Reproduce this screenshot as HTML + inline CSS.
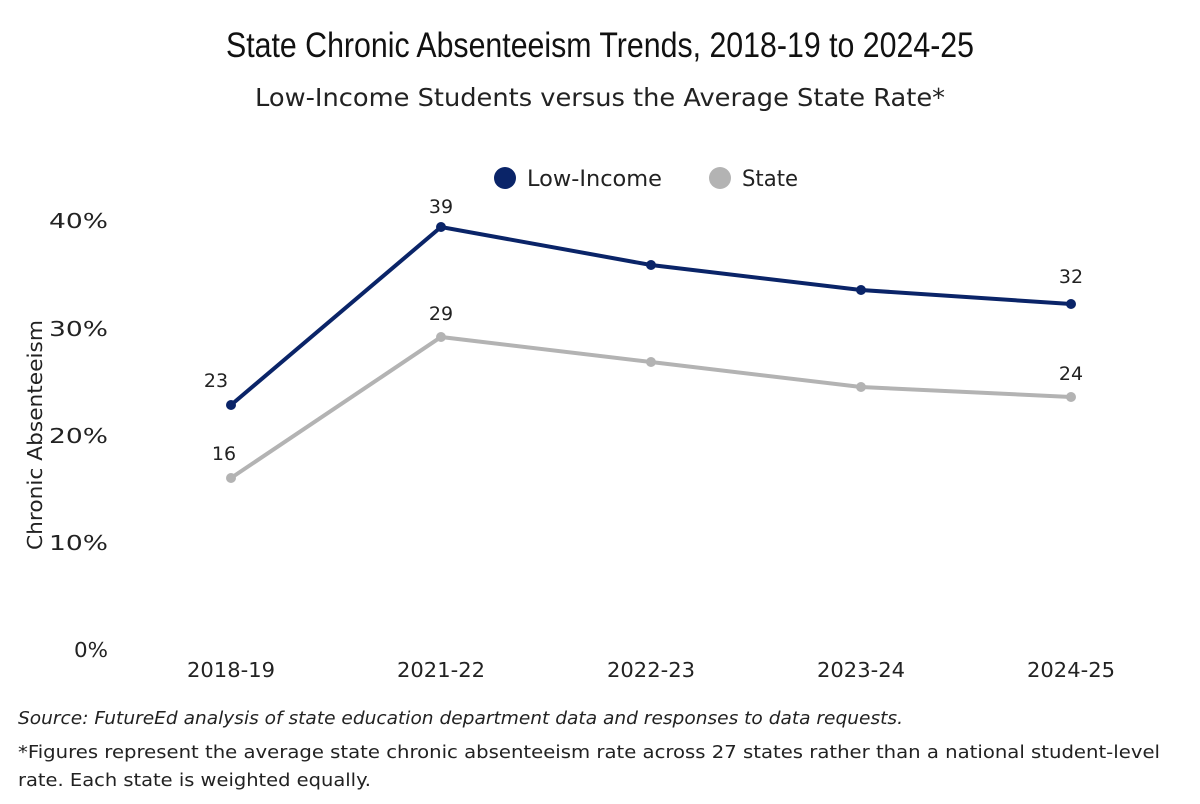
<!DOCTYPE html>
<html><head><meta charset="utf-8"><style>
html,body{margin:0;padding:0;background:#fff;}
body{width:1200px;height:800px;overflow:hidden;font-family:"DejaVu Sans",sans-serif;}
</style></head><body>
<svg width="1200" height="800" viewBox="0 0 1200 800" xmlns="http://www.w3.org/2000/svg" font-family="DejaVu Sans, Liberation Sans, sans-serif">
<rect width="1200" height="800" fill="#fff"/>
<text x="226" y="57" font-family="Liberation Sans, sans-serif" font-size="35" fill="#111" textLength="748" lengthAdjust="spacingAndGlyphs">State Chronic Absenteeism Trends, 2018-19 to 2024-25</text>
<text x="255" y="106" font-size="24.5" fill="#222" textLength="690" lengthAdjust="spacingAndGlyphs">Low-Income Students versus the Average State Rate*</text>
<circle cx="505" cy="178" r="11" fill="#0a2468"/>
<text x="527" y="186" font-size="22" fill="#222" textLength="135" lengthAdjust="spacingAndGlyphs">Low-Income</text>
<circle cx="720" cy="178" r="11" fill="#b3b3b3"/>
<text x="742" y="186" font-size="22" fill="#222" textLength="56" lengthAdjust="spacingAndGlyphs">State</text>
<g font-size="20.5" fill="#222">
<text x="49" y="228" textLength="59" lengthAdjust="spacingAndGlyphs">40%</text>
<text x="49" y="336" textLength="59" lengthAdjust="spacingAndGlyphs">30%</text>
<text x="49" y="443" textLength="59" lengthAdjust="spacingAndGlyphs">20%</text>
<text x="49" y="550" textLength="59" lengthAdjust="spacingAndGlyphs">10%</text>
<text x="74" y="657" textLength="34" lengthAdjust="spacingAndGlyphs">0%</text>
</g>
<text transform="translate(42 550) rotate(-90)" font-size="20.5" fill="#222" textLength="230" lengthAdjust="spacingAndGlyphs">Chronic Absenteeism</text>
<g font-size="20.5" fill="#222">
<text x="187" y="677" textLength="88" lengthAdjust="spacingAndGlyphs">2018-19</text>
<text x="397" y="677" textLength="88" lengthAdjust="spacingAndGlyphs">2021-22</text>
<text x="607" y="677" textLength="88" lengthAdjust="spacingAndGlyphs">2022-23</text>
<text x="817" y="677" textLength="88" lengthAdjust="spacingAndGlyphs">2023-24</text>
<text x="1027" y="677" textLength="88" lengthAdjust="spacingAndGlyphs">2024-25</text>
</g>
<polyline points="231,478 441,337 651,362 861,387 1071,397" fill="none" stroke="#b3b3b3" stroke-width="4"/>
<g fill="#b3b3b3"><circle cx="231" cy="478" r="5"/><circle cx="441" cy="337" r="5"/><circle cx="651" cy="362" r="5"/><circle cx="861" cy="387" r="5"/><circle cx="1071" cy="397" r="5"/></g>
<polyline points="231,405 441,227 651,265 861,290 1071,304" fill="none" stroke="#0a2468" stroke-width="4"/>
<g fill="#0a2468"><circle cx="231" cy="405" r="5"/><circle cx="441" cy="227" r="5"/><circle cx="651" cy="265" r="5"/><circle cx="861" cy="290" r="5"/><circle cx="1071" cy="304" r="5"/></g>
<g font-size="19" fill="#222" text-anchor="middle">
<text x="216" y="387">23</text><text x="441" y="213">39</text><text x="1071" y="283">32</text>
<text x="224" y="460">16</text><text x="441" y="320">29</text><text x="1071" y="380">24</text>
</g>
<text x="18" y="724" font-size="18" font-style="italic" fill="#222" textLength="885" lengthAdjust="spacingAndGlyphs">Source: FutureEd analysis of state education department data and responses to data requests.</text>
<text x="18" y="758" font-size="18" fill="#222" textLength="1142" lengthAdjust="spacingAndGlyphs">*Figures represent the average state chronic absenteeism rate across 27 states rather than a national student-level</text>
<text x="18" y="786" font-size="18" fill="#222" textLength="353" lengthAdjust="spacingAndGlyphs">rate. Each state is weighted equally.</text>
</svg>
</body></html>
